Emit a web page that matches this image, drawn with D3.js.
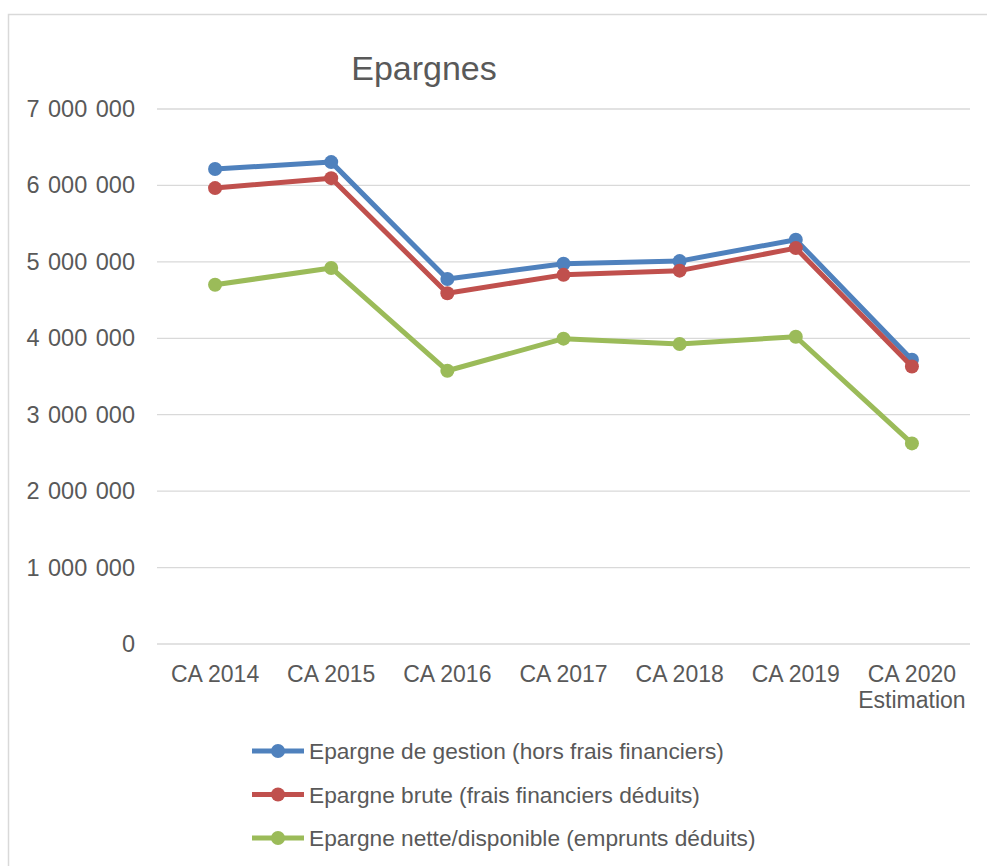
<!DOCTYPE html>
<html>
<head>
<meta charset="utf-8">
<script src="https://cdn.jsdelivr.net/npm/d3@7"></script>
<style>
  body { margin: 0; background: #fff; }
  text { font-family: "Liberation Sans", Arial, sans-serif; fill: #595959; }
</style>
</head>
<body>
<div id="chart"></div>
<script>
const w = 987;
const h = 866;

// data
const categories = ['CA 2014', 'CA 2015', 'CA 2016', 'CA 2017', 'CA 2018', 'CA 2019', 'CA 2020\nEstimation'];
const gestion = [6215000, 6305000, 4775000, 4975000, 5010000, 5290000, 3720000];
const brute = [5965000, 6095000, 4590000, 4830000, 4885000, 5180000, 3630000];
const nette = [4700000, 4920000, 3575000, 3995000, 3925000, 4020000, 2625000];
const seriesNames = [
    'Epargne de gestion (hors frais financiers)',
    'Epargne brute (frais financiers déduits)',
    'Epargne nette/disponible (emprunts déduits)'
];
const colors = ['#4F81BD', '#C0504D', '#9BBB59'];
const yTicks = [0, 1000000, 2000000, 3000000, 4000000, 5000000, 6000000, 7000000];

const series = [gestion, brute, nette];

const svg = d3.select('#chart')
    .append('svg')
    .attr('width', w)
    .attr('height', h);

// chart frame
svg.append('rect')
    .attr('x', 8.5)
    .attr('y', 14.5)
    .attr('width', 1000)
    .attr('height', 900)
    .attr('fill', '#fff')
    .attr('stroke', '#d9d9d9')
    .attr('stroke-width', 1.5);

const xScale = d3.scaleBand()
    .domain(categories)
    .range([157, 970]);

const yScale = d3.scaleLinear()
    .domain([0, 7000000])
    .range([644, 109]);

const fmt = v => d3.format(',')(v).replace(/,/g, ' ');

// gridlines
svg.append('g')
    .selectAll('line')
    .data(yTicks)
    .enter()
    .append('line')
    .attr('x1', 157)
    .attr('x2', 970)
    .attr('y1', d => yScale(d))
    .attr('y2', d => yScale(d))
    .attr('stroke', '#d9d9d9')
    .attr('stroke-width', 1.3);

// y labels
const yAxis = d3.axisLeft(yScale).tickValues(yTicks).tickFormat(fmt).tickSize(0).tickPadding(22);
svg.append('g')
    .attr('transform', 'translate(157,0)')
    .call(yAxis)
    .call(g => g.select('.domain').remove())
    .selectAll('text')
    .style('font-size', '23.5px')
    .style('word-spacing', '2px')
    .attr('fill', '#595959');

// x labels
const xLabels = svg.append('g')
    .selectAll('text')
    .data(categories)
    .enter()
    .append('text')
    .attr('x', d => xScale(d) + xScale.bandwidth() / 2)
    .attr('y', 682)
    .attr('text-anchor', 'middle')
    .style('font-size', '23px');

xLabels.each(function (d) {
    const parts = d.split('\n');
    d3.select(this).selectAll('tspan')
        .data(parts)
        .enter()
        .append('tspan')
        .attr('x', xScale(d) + xScale.bandwidth() / 2)
        .attr('dy', (p, i) => i === 0 ? 0 : 26)
        .text(p => p);
});

// lines
const line = d3.line()
    .x((d, i) => xScale(categories[i]) + xScale.bandwidth() / 2)
    .y(d => yScale(d));

series.forEach((s, k) => {
    svg.append('path')
        .datum(s)
        .attr('d', line)
        .attr('fill', 'none')
        .attr('stroke', colors[k])
        .attr('stroke-width', 5)
        .attr('stroke-linejoin', 'round');

    svg.append('g')
        .selectAll('circle')
        .data(s)
        .enter()
        .append('circle')
        .attr('cx', (d, i) => xScale(categories[i]) + xScale.bandwidth() / 2)
        .attr('cy', d => yScale(d))
        .attr('r', 7)
        .attr('fill', colors[k]);
});

// title
svg.append('text')
    .attr('x', 424)
    .attr('y', 80)
    .attr('text-anchor', 'middle')
    .style('font-size', '34px')
    .text('Epargnes');

// legend
const legend = svg.append('g')
    .selectAll('g')
    .data(seriesNames)
    .enter()
    .append('g')
    .attr('transform', (d, i) => 'translate(0,' + (751 + i * 43.5) + ')');

legend.append('line')
    .attr('x1', 252)
    .attr('x2', 304)
    .attr('stroke', (d, i) => colors[i])
    .attr('stroke-width', 5);

legend.append('circle')
    .attr('cx', 278)
    .attr('r', 7)
    .attr('fill', (d, i) => colors[i]);

legend.append('text')
    .attr('x', 309)
    .attr('y', 8)
    .style('font-size', '22.7px')
    .text(d => d);
</script>
</body>
</html>
